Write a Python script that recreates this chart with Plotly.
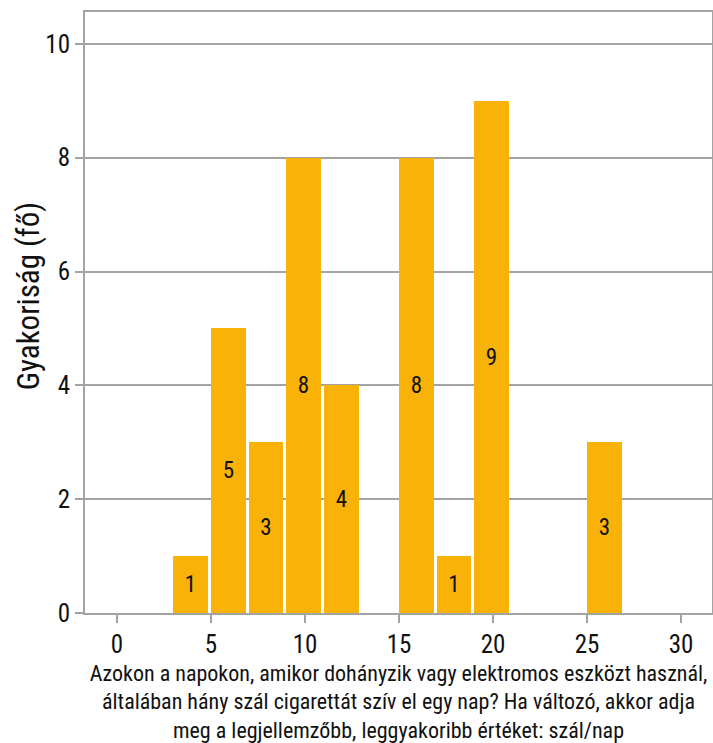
import plotly.graph_objects as go

bin_starts = [3, 5, 7, 9, 11, 15, 17, 19, 25]
counts = [1, 5, 3, 8, 4, 8, 1, 9, 3]
x_ticks = [0, 5, 10, 15, 20, 25, 30]
y_ticks = [0, 2, 4, 6, 8, 10]

FONT = "Roboto Condensed, Liberation Sans Narrow, Roboto, sans-serif"
BAR = "#F8B208"
GRID = "#A3A3A3"

fig = go.Figure(go.Bar(
    x=bin_starts, y=counts, width=1.85, offset=0,
    marker=dict(color=BAR, line=dict(width=0)),
    text=[str(c) for c in counts], textposition="inside",
    insidetextanchor="middle", textangle=0,
    textfont=dict(family=FONT, size=23, color="#111111"),
    hoverinfo="skip",
))

fig.update_layout(
    width=713, height=743,
    margin=dict(l=85, r=1, t=12, b=130, autoexpand=False),
    paper_bgcolor="white", plot_bgcolor="white",
    font=dict(family=FONT, color="#111111"),
    showlegend=False,
    bargap=0,
    annotations=[dict(
        text="Gyakoriság (fő)", textangle=-90, showarrow=False,
        xref="paper", yref="paper", x=-0.091, y=0.527,
        xanchor="center", yanchor="middle",
        font=dict(size=31, family=FONT, color="#111111"),
    )],
)
fig.update_xaxes(
    range=[-1.7, 31.65], tickvals=x_ticks, ticktext=[str(v) for v in x_ticks],
    showgrid=False, zeroline=False,
    showline=True, mirror=True, linecolor=GRID, linewidth=2,
    ticks="outside", ticklen=8, tickcolor=GRID, tickwidth=2,
    tickfont=dict(size=25, family=FONT, color="#111111"),
    automargin=False,
    title=dict(
        text="Azokon a napokon, amikor dohányzik vagy elektromos eszközt használ,<br>"
             "általában hány szál cigarettát szív el egy nap? Ha változó, akkor adja<br>"
             "meg a legjellemzőbb, leggyakoribb értéket: szál/nap",
        font=dict(size=22, family=FONT, color="#111111"), standoff=10),
)
fig.update_yaxes(
    range=[0, 10.56], tickvals=y_ticks, ticktext=[str(v) for v in y_ticks],
    showgrid=True, gridcolor=GRID, gridwidth=2, zeroline=False,
    showline=True, mirror=True, linecolor=GRID, linewidth=2,
    ticks="outside", ticklen=8, tickcolor=GRID, tickwidth=2,
    tickfont=dict(size=25, family=FONT, color="#111111"),
    automargin=False,
)

fig.write_html("out.html", config={"displayModeBar": False},
               post_script="document.body.style.margin='0';")
